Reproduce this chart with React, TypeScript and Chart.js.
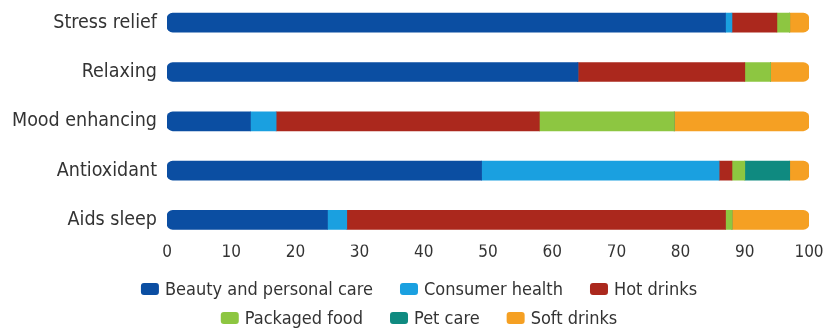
import React, { useEffect, useRef } from "react";
import { Chart, registerables } from "chart.js";

Chart.register(...registerables);

const categories = ["Stress relief", "Relaxing", "Mood enhancing", "Antioxidant", "Aids sleep"];
const seriesNames = [
  "Beauty and personal care",
  "Consumer health",
  "Hot drinks",
  "Packaged food",
  "Pet care",
  "Soft drinks",
];
const beautyPersonalCare = [87, 64, 13, 49, 25];
const consumerHealth = [1, 0, 4, 37, 3];
const hotDrinks = [7, 26, 41, 2, 59];
const packagedFood = [2, 4, 21, 2, 1];
const petCare = [0, 0, 0, 7, 0];
const softDrinks = [3, 6, 21, 3, 12];
const xTicks = [0, 10, 20, 30, 40, 50, 60, 70, 80, 90, 100];

const seriesValues = [beautyPersonalCare, consumerHealth, hotDrinks, packagedFood, petCare, softDrinks];
const seriesColors = ["#0b4ea2", "#1aa0e0", "#ab281d", "#8dc641", "#0f8a80", "#f5a023"];

const FONT = '"DejaVu Sans Condensed", "Liberation Sans Narrow", sans-serif';
const TEXT = "#333333";

const legendPlugin = {
  id: "wrappedLegend",
  afterDraw(chart: any) {
    const ctx = chart.ctx as CanvasRenderingContext2D;
    ctx.save();
    ctx.font = `18px ${FONT}`;
    ctx.textBaseline = "middle";
    const boxW = 18;
    const boxH = 12;
    const gapText = 6;
    const gapItem = 27;
    const maxRow = 620;
    const items = chart.data.datasets.map((ds: any) => ({
      text: ds.label as string,
      color: ds.backgroundColor as string,
      w: boxW + gapText + ctx.measureText(ds.label).width,
    }));
    const rows: any[][] = [];
    let cur: any[] = [];
    let curW = 0;
    items.forEach((it: any) => {
      const add = cur.length ? gapItem + it.w : it.w;
      if (cur.length && curW + add > maxRow) {
        rows.push(cur);
        cur = [it];
        curW = it.w;
      } else {
        cur.push(it);
        curW += add;
      }
    });
    if (cur.length) rows.push(cur);
    const cx = chart.width / 2 + 6;
    const baseY = chart.height - 43;
    const lineH = 29;
    rows.forEach((row, r) => {
      const total = row.reduce((s: number, it: any, i: number) => s + it.w + (i ? gapItem : 0), 0);
      let x = cx - total / 2;
      const y = baseY + r * lineH;
      row.forEach((it: any) => {
        ctx.fillStyle = it.color;
        ctx.beginPath();
        (ctx as any).roundRect(x, y - boxH / 2, boxW, boxH, 3);
        ctx.fill();
        ctx.fillStyle = TEXT;
        ctx.textAlign = "left";
        ctx.fillText(it.text, x + boxW + gapText, y + 1);
        x += it.w + gapItem;
      });
    });
    ctx.restore();
  },
};

export default function App() {
  const ref = useRef<HTMLCanvasElement | null>(null);

  useEffect(() => {
    document.body.style.margin = "0";
    const canvas = ref.current;
    if (!canvas) return;
    const lastIndex = (j: number) => {
      let last = 0;
      seriesValues.forEach((vals, i) => {
        if (vals[j] > 0) last = i;
      });
      return last;
    };
    const chart = new Chart(canvas, {
      type: "bar",
      data: {
        labels: categories,
        datasets: seriesNames.map((name, i) => ({
          label: name,
          data: seriesValues[i],
          backgroundColor: seriesColors[i],
          borderWidth: 0,
          borderSkipped: false,
          barThickness: 19,
          borderRadius: (c: any) => {
            const j = c.dataIndex;
            const r = 6;
            const left = i === 0 ? r : 0;
            const right = i === lastIndex(j) ? r : 0;
            return { topLeft: left, bottomLeft: left, topRight: right, bottomRight: right };
          },
        })),
      },
      plugins: [legendPlugin],
      options: {
        indexAxis: "y",
        animation: false,
        responsive: false,
        maintainAspectRatio: false,
        layout: { padding: { left: 2, right: 17, top: 0, bottom: 71 } },
        plugins: {
          legend: { display: false },
          tooltip: { enabled: false },
        },
        scales: {
          x: {
            stacked: true,
            min: 0,
            max: 100,
            afterBuildTicks: (axis: any) => {
              axis.ticks = xTicks.map((v) => ({ value: v }));
            },
            grid: { display: false, drawTicks: false },
            border: { display: false },
            ticks: {
              padding: -2,
              color: TEXT,
              font: { family: FONT, size: 17 },
              maxRotation: 0,
            },
          },
          y: {
            stacked: true,
            grid: { display: false, drawTicks: false },
            border: { display: false },
            afterFit: (scale: any) => {
              scale.paddingTop = 0;
              scale.paddingBottom = 0;
            },
            ticks: {
              padding: 10,
              color: TEXT,
              font: { family: FONT, size: 19.5 },
            },
          },
        },
      },
    } as any);
    return () => chart.destroy();
  }, []);

  return (
    <div style={{ position: "fixed", left: 0, top: -2, width: 826, height: 334 }}>
      <canvas ref={ref} width={826} height={334} style={{ width: 826, height: 334, display: "block" }} />
    </div>
  );
}
